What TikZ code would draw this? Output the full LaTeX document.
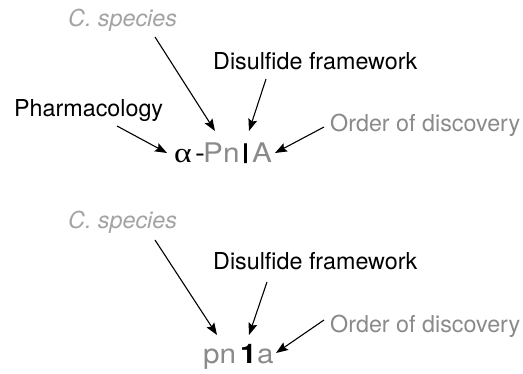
\documentclass[tikz,border=0pt]{standalone}
\usepackage{fontspec}
\setmainfont{TeX Gyre Heros}
\newfontfamily\widefont[FakeStretch=1.1]{TeX Gyre Heros}
\newfontfamily\heavyfont[FakeStretch=1.1,FakeBold=0.3]{TeX Gyre Heros}
\newfontfamily\greekfont[FakeStretch=1.2]{Liberation Serif}
\usetikzlibrary{arrows.meta}
\definecolor{lightg}{HTML}{A3A3A3}
\definecolor{midg}{HTML}{8A8A8A}
\tikzset{
  lbl/.style={anchor=base west, inner sep=0pt, font=\fontsize{23.3}{26}\selectfont},
  big/.style={anchor=base west, inner sep=0pt, font=\widefont\fontsize{27}{30}\selectfont},
  arr/.style={line width=1.1pt, -{Stealth[length=12pt,width=9pt,inset=2pt]}},
}
\begin{document}
\begin{tikzpicture}[x=1pt,y=-1pt]
\useasboundingbox (0,0) rectangle (523,374);
% ---------- top ----------
\node[lbl, text=lightg, font=\fontsize{23.3}{26}\selectfont\itshape] (csA) at (68,27) {C. species};
\node[lbl] (dfA) at (213,70) {Disulfide framework};
\node[lbl] (phA) at (14,117) {Pharmacology};
\node[lbl, text=midg] (odA) at (330,132) {Order of discovery};
\node[big, font=\greekfont\fontsize{28}{30}\selectfont] (alA) at (174,163) {α};
\node[big] (hyA) at (195,163) {-};
\node[big, text=midg] (pnA) at (203,163) {Pn};
\node[big, font=\heavyfont\fontsize{27}{30}\selectfont] (iA) at (241,163) {I};
\node[big, text=midg] (aA) at (252,163) {A};
\coordinate (csAs) at (155,37);  \coordinate (csAt) at (215,131);
\coordinate (dfAs) at (266,79);  \coordinate (dfAt) at (249,131);
\coordinate (phAs) at (117,126); \coordinate (phAt) at (167,153);
\coordinate (odAs) at (324,127); \coordinate (odAt) at (275,153);
\draw[arr] (csAs) -- (csAt);
\draw[arr] (dfAs) -- (dfAt);
\draw[arr] (phAs) -- (phAt);
\draw[arr] (odAs) -- (odAt);
% ---------- bottom ----------
\node[lbl, text=lightg, font=\fontsize{23.3}{26}\selectfont\itshape] (csB) at (68,229) {C. species};
\node[lbl] (dfB) at (213,270) {Disulfide framework};
\node[lbl, text=midg] (odB) at (330,333) {Order of discovery};
\node[big, text=midg] (pnB) at (203,364) {pn};
\node[big, font=\widefont\fontsize{27}{30}\selectfont\bfseries] (oneB) at (240,364) {1};
\node[big, text=midg] (aB) at (257,364) {a};
\coordinate (csBs) at (155,240); \coordinate (csBt) at (217,335);
\coordinate (dfBs) at (267,282); \coordinate (dfBt) at (249,335);
\coordinate (odBs) at (324,320); \coordinate (odBt) at (276,353);
\draw[arr] (csBs) -- (csBt);
\draw[arr] (dfBs) -- (dfBt);
\draw[arr] (odBs) -- (odBt);
\end{tikzpicture}
\end{document}
